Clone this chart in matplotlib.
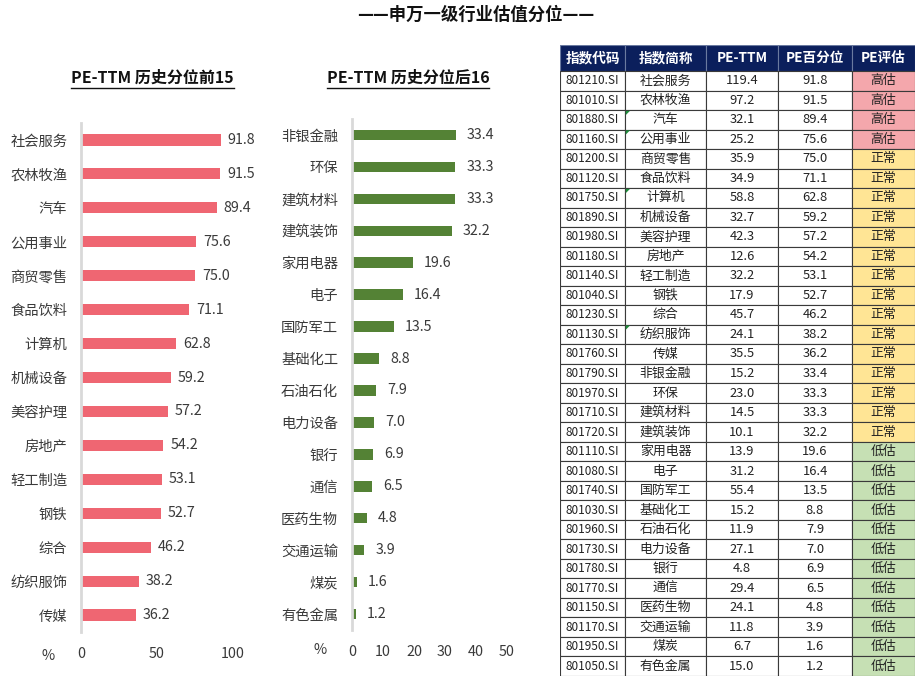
import matplotlib
matplotlib.use("Agg")
import matplotlib.pyplot as plt
from matplotlib.patches import Rectangle, Polygon

plt.rcParams['font.family'] = ['Noto Sans CJK SC', 'DejaVu Sans']

# Data
codes = ["801210.SI", "801010.SI", "801880.SI", "801160.SI", "801200.SI", "801120.SI",
         "801750.SI", "801890.SI", "801980.SI", "801180.SI", "801140.SI", "801040.SI",
         "801230.SI", "801130.SI", "801760.SI", "801790.SI", "801970.SI", "801710.SI",
         "801720.SI", "801110.SI", "801080.SI", "801740.SI", "801030.SI", "801960.SI",
         "801730.SI", "801780.SI", "801770.SI", "801150.SI", "801170.SI", "801950.SI",
         "801050.SI"]
names = ["社会服务", "农林牧渔", "汽车", "公用事业", "商贸零售", "食品饮料", "计算机",
         "机械设备", "美容护理", "房地产", "轻工制造", "钢铁", "综合", "纺织服饰", "传媒",
         "非银金融", "环保", "建筑材料", "建筑装饰", "家用电器", "电子", "国防军工",
         "基础化工", "石油石化", "电力设备", "银行", "通信", "医药生物", "交通运输",
         "煤炭", "有色金属"]
pe_ttm = [119.4, 97.2, 32.1, 25.2, 35.9, 34.9, 58.8, 32.7, 42.3, 12.6, 32.2, 17.9,
          45.7, 24.1, 35.5, 15.2, 23.0, 14.5, 10.1, 13.9, 31.2, 55.4, 15.2, 11.9,
          27.1, 4.8, 29.4, 24.1, 11.8, 6.7, 15.0]
pe_pct = [91.8, 91.5, 89.4, 75.6, 75.0, 71.1, 62.8, 59.2, 57.2, 54.2, 53.1, 52.7,
          46.2, 38.2, 36.2, 33.4, 33.3, 33.3, 32.2, 19.6, 16.4, 13.5, 8.8, 7.9,
          7.0, 6.9, 6.5, 4.8, 3.9, 1.6, 1.2]
pe_eval = ["高估"] * 4 + ["正常"] * 15 + ["低估"] * 12
commented = ["汽车", "公用事业", "计算机", "纺织服饰"]

top_names, top_vals = names[:15], pe_pct[:15]
bot_names, bot_vals = names[15:], pe_pct[15:]

headers = ["指数代码", "指数简称", "PE-TTM", "PE百分位", "PE评估"]
eval_colors = {"高估": "#F4A7AC", "正常": "#FFE595", "低估": "#C6E0B4"}

W, H = 920, 678
fig = plt.figure(figsize=(W / 100, H / 100), dpi=100)


def px_axes(x0, y0, x1, y1):
    return fig.add_axes([x0 / W, 1 - y1 / H, (x1 - x0) / W, (y1 - y0) / H])


fig.text(476 / W, 1 - 15 / H, "——申万一级行业估值分位——", ha="center", va="center",
         fontsize=12.5, fontweight="bold", color="#111111")


def bar_panel(ax, labels, vals, color, xmax, ticks, offset):
    y = list(range(len(labels)))
    ax.barh(y, vals, height=0.33, color=color)
    ax.set_ylim(len(labels) - 0.5, -0.5)
    ax.set_xlim(0, xmax)
    ax.set_yticks(y)
    ax.set_yticklabels(labels, fontsize=10.3, color="#3A3A3A")
    ax.set_xticks(ticks)
    ax.set_xticklabels([str(t) for t in ticks], fontsize=10.3, color="#3A3A3A")
    ax.tick_params(axis="both", length=0)
    ax.tick_params(axis="y", pad=10)
    ax.tick_params(axis="x", pad=11)
    for s in ["top", "right", "bottom"]:
        ax.spines[s].set_visible(False)
    ax.spines["left"].set_color("#D9D9D9")
    ax.spines["left"].set_linewidth(2)
    for yi, v in zip(y, vals):
        ax.annotate(f"{v:.1f}", (v, yi), xytext=(offset, 0), textcoords="offset points",
                    va="center", ha="left", fontsize=10.3, color="#3A3A3A")


ax1 = px_axes(81, 123, 233, 632)
bar_panel(ax1, top_names, top_vals, "#EF6672", 100, [0, 50, 100], 5)
ax2 = px_axes(352, 119, 507, 630)
bar_panel(ax2, bot_names, bot_vals, "#548235", 50, [0, 10, 20, 30, 40, 50], 8)

fig.text(152 / W, 1 - 78 / H, "PE-TTM 历史分位前15", ha="center", va="center",
         fontsize=11.5, fontweight="bold", color="#111111")
fig.text(408 / W, 1 - 78 / H, "PE-TTM 历史分位后16", ha="center", va="center",
         fontsize=11.5, fontweight="bold", color="#111111")
fig.add_artist(plt.Line2D([71 / W, 234 / W], [1 - 88 / H] * 2, color="#111111", lw=1))
fig.add_artist(plt.Line2D([327 / W, 489 / W], [1 - 88 / H] * 2, color="#111111", lw=1))
fig.text(48 / W, 1 - 656 / H, "%", ha="center", va="center", fontsize=10.3, color="#3A3A3A")
fig.text(320 / W, 1 - 650 / H, "%", ha="center", va="center", fontsize=10.3, color="#3A3A3A")

# Table
tx0, tx1, ty0, ty1 = 560, 915, 45, 676
axt = px_axes(tx0, ty0, tx1, ty1)
axt.set_xlim(tx0, tx1)
axt.set_ylim(ty1, ty0)
axt.axis("off")
col_edges = [560, 625, 706, 778, 852, 915]
head_bottom = 71
row_h = (ty1 - head_bottom) / len(codes)

for c, h in enumerate(headers):
    xa, xb = col_edges[c], col_edges[c + 1]
    axt.add_patch(Rectangle((xa, ty0), xb - xa, head_bottom - ty0, facecolor="#0B1F5C",
                            edgecolor="#6A7AA0", lw=0.8))
    axt.text((xa + xb) / 2, (ty0 + head_bottom) / 2, h, ha="center", va="center",
             color="white", fontsize=9.8, fontweight="bold")

for r in range(len(codes)):
    y0 = head_bottom + r * row_h
    cells = [codes[r], names[r], f"{pe_ttm[r]:.1f}", f"{pe_pct[r]:.1f}", pe_eval[r]]
    for c, txt in enumerate(cells):
        xa, xb = col_edges[c], col_edges[c + 1]
        fc = eval_colors[txt] if c == 4 else "white"
        axt.add_patch(Rectangle((xa, y0), xb - xa, row_h, facecolor=fc,
                                edgecolor="#3A3A3A", lw=0.8))
        axt.text((xa + xb) / 2, y0 + row_h / 2, txt, ha="center", va="center",
                 color="#222222", fontsize=9.3 if c != 0 else 8.5)
    if names[r] in commented:
        xa = col_edges[1]
        axt.add_patch(Polygon([(xa + 0.8, y0 + 0.8), (xa + 5, y0 + 0.8), (xa + 0.8, y0 + 5)],
                              closed=True, facecolor="#1E8C3A", edgecolor="none"))

fig.savefig("out.png", dpi=100)
